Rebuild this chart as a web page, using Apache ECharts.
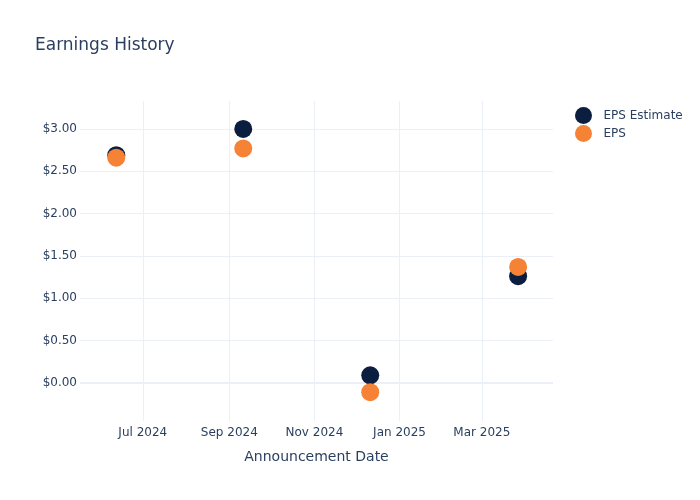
<!DOCTYPE html>
<html>
<head>
    <meta charset="utf-8">
    <script src="https://cdn.jsdelivr.net/npm/echarts@6/dist/echarts.min.js"></script>
</head>
<body style="margin: 0">
    <div id="chart" style="width: 700px; height: 500px"></div>
    <script type="text/javascript">
        // announcement dates and EPS values
        var dates = ['2024-06-12', '2024-09-11', '2024-12-11', '2025-03-27'];
        var epsEstimate = [2.69, 3.00, 0.09, 1.26];
        var epsActual = [2.66, 2.77, -0.11, 1.37];
        // x ticks every two months
        var tickDates = ['2024-07-01', '2024-09-01', '2024-11-01', '2025-01-01', '2025-03-01'];
        var monthNames = ['Jan', 'Feb', 'Mar', 'Apr', 'May', 'Jun', 'Jul', 'Aug', 'Sep', 'Oct', 'Nov', 'Dec'];

        var textColor = '#2a3f5f';
        var gridColor = '#ebf0f8';

        function pairs(vals) {
            return dates.map(function (d, i) { return [d, vals[i]]; });
        }

        var tickStamps = tickDates.map(function (d) { return new Date(d).getTime(); });
        var gridLines = tickDates.map(function (d) { return { xAxis: d }; });
        gridLines.push({ yAxis: 0, lineStyle: { width: 2 } });

        var myChart = echarts.init(document.getElementById('chart'), null, { renderer: 'canvas' });
        var option = {
            animation: false,
            textStyle: { fontFamily: 'DejaVu Sans, sans-serif' },
            title: {
                text: 'Earnings History',
                left: 30,
                top: 32,
                textStyle: { color: textColor, fontSize: 17, fontWeight: 'normal', fontFamily: 'DejaVu Sans' }
            },
            legend: {
                orient: 'vertical',
                left: 575,
                top: 107,
                padding: 0,
                itemWidth: 26,
                itemHeight: 17,
                itemGap: 1,
                icon: 'circle',
                textStyle: { color: textColor, fontSize: 12, fontFamily: 'DejaVu Sans', padding: [0, 0, 0, 2] },
                data: ['EPS Estimate', 'EPS']
            },
            grid: { left: 80, right: 147, top: 101, bottom: 79 },
            xAxis: {
                type: 'time',
                min: '2024-05-17',
                max: '2025-04-21',
                name: 'Announcement Date',
                nameLocation: 'middle',
                nameGap: 29,
                nameTextStyle: { color: textColor, fontSize: 14, fontFamily: 'DejaVu Sans' },
                axisLine: { show: false },
                axisTick: { show: false },
                axisLabel: {
                    color: textColor,
                    fontSize: 12,
                    fontFamily: 'DejaVu Sans',
                    margin: 6,
                    formatter: function (v) {
                        var d = new Date(v);
                        var hit = tickStamps.some(function (t) { return Math.abs(t - v) < 3600 * 1000 * 36; });
                        if (!hit) return '';
                        return monthNames[d.getMonth()] + ' ' + d.getFullYear();
                    }
                },
                splitLine: { show: false }
            },
            yAxis: {
                type: 'value',
                min: -0.45,
                max: 3.33,
                splitNumber: 8,
                axisLine: { show: false },
                axisTick: { show: false },
                axisLabel: {
                    color: textColor,
                    fontSize: 12,
                    fontFamily: 'DejaVu Sans',
                    margin: 3,
                    showMinLabel: false,
                    showMaxLabel: false,
                    formatter: function (v) {
                        if (v < 0) return '';
                        return '$' + v.toFixed(2);
                    }
                },
                splitLine: { show: true, showMinLine: false, showMaxLine: false, lineStyle: { color: gridColor, width: 1 } }
            },
            series: [
                {
                    name: 'EPS Estimate',
                    type: 'scatter',
                    symbolSize: 18,
                    itemStyle: { color: '#0b1e3f', opacity: 1 },
                    data: pairs(epsEstimate),
                    markLine: {
                        silent: true,
                        z: 0,
                        symbol: 'none',
                        label: { show: false },
                        emphasis: { disabled: true },
                        lineStyle: { color: gridColor, width: 1, type: 'solid' },
                        data: gridLines
                    }
                },
                {
                    name: 'EPS',
                    type: 'scatter',
                    symbolSize: 18,
                    itemStyle: { color: '#f58235', opacity: 1 },
                    data: pairs(epsActual)
                }
            ]
        };
        myChart.setOption(option);
    </script>
</body>
</html>
